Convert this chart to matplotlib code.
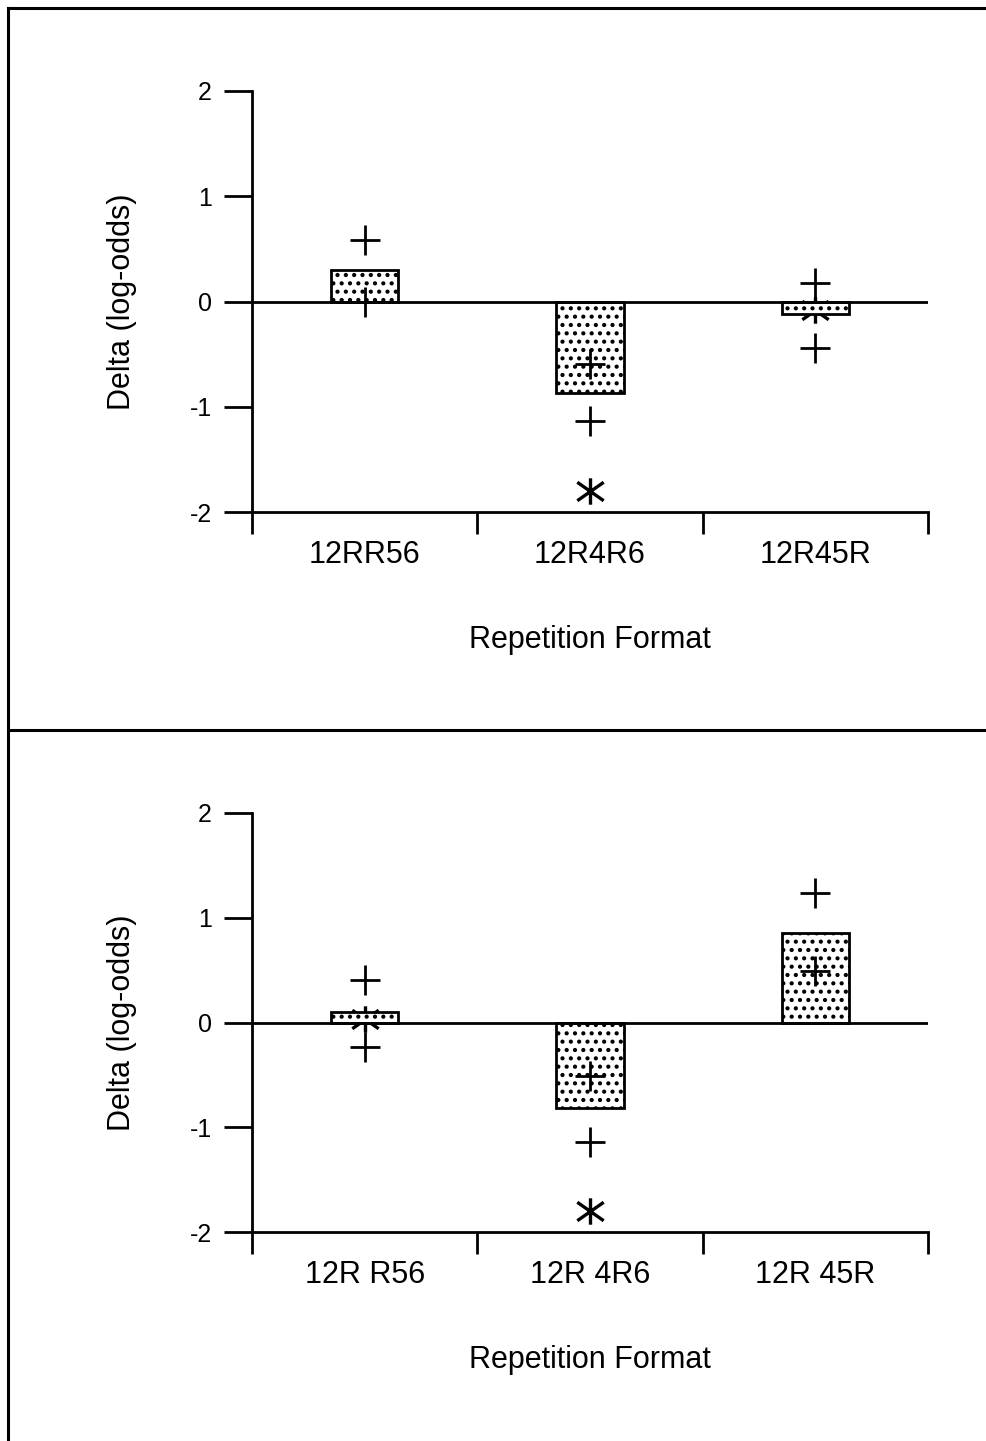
import numpy as np
import matplotlib
matplotlib.use("Agg")
import matplotlib.pyplot as plt
from matplotlib.lines import Line2D
from matplotlib.path import Path

plt.rcParams['font.family'] = ['Liberation Sans', 'DejaVu Sans']
plt.rcParams['axes.unicode_minus'] = False
plt.rcParams['hatch.linewidth'] = 1.8

# top panel
labels_top = ["12RR56", "12R4R6", "12R45R"]
bars_top = [0.30, -0.87, -0.12]
plus_top = [[0.58, 0.0], [-0.59, -1.14], [0.18, -0.44]]
star_top = [None, -1.80, -0.08]

# bottom panel
labels_bot = ["12R R56", "12R 4R6", "12R 45R"]
bars_bot = [0.10, -0.82, 0.85]
plus_bot = [[0.41, -0.23], [-0.51, -1.14], [1.24, 0.49]]
star_bot = [0.03, -1.80, None]

# asterisk like the one in the original (vertical + two diagonals)
star = Path([(0, -1), (0, 1), (-1, -0.7), (1, 0.7), (-1, 0.7), (1, -0.7)],
            [Path.MOVETO, Path.LINETO, Path.MOVETO, Path.LINETO,
             Path.MOVETO, Path.LINETO])

W, H = 987, 1441
fig = plt.figure(figsize=(W / 100, H / 100), dpi=100)


def panel(rect, labels, bars, plus, stars):
    ax = fig.add_axes(rect)
    x = np.arange(len(labels)) + 0.5
    ax.bar(x, bars, width=0.3, color='white', edgecolor='black',
           linewidth=2, hatch='..', zorder=3)
    for xi, pv in zip(x, plus):
        ax.plot([xi] * len(pv), pv, ls='none', marker='+', ms=22,
                mew=2, color='black', zorder=4)
    for xi, sv in zip(x, stars):
        if sv is not None:
            ax.plot([xi], [sv], ls='none', marker=star, ms=19,
                    mew=2.4, color='black', zorder=2)
    ax.axhline(0, color='black', lw=2, zorder=3.5)
    ax.set_xlim(0, 3)
    ax.set_ylim(-2, 2)
    ax.set_yticks([-2, -1, 0, 1, 2])
    ax.set_xticks([0, 1, 2, 3])
    ax.set_xticklabels([])
    ax.set_xticks(x, minor=True)
    ax.set_xticklabels(labels, minor=True)
    ax.tick_params(axis='x', which='minor', length=0, pad=20, labelsize=22)
    ax.tick_params(axis='x', which='major', length=16, width=2, direction='out')
    ax.tick_params(axis='y', length=20, width=2, direction='out', pad=9,
                   labelsize=18)
    for s in ['top', 'right']:
        ax.spines[s].set_visible(False)
    for s in ['left', 'bottom']:
        ax.spines[s].set_linewidth(2)
    ax.set_xlabel("Repetition Format", fontsize=22, labelpad=40)
    ax.set_ylabel("Delta (log-odds)", fontsize=22, labelpad=38)
    return ax


panel([252 / W, 1 - 512 / H, 676 / W, 421 / H], labels_top, bars_top, plus_top, star_top)
panel([252 / W, 1 - 1232 / H, 676 / W, 419 / H], labels_bot, bars_bot, plus_bot, star_bot)

# frame lines
lw = 2.2
fig.add_artist(Line2D([8 / W, 1], [1 - 8 / H, 1 - 8 / H], color='black', lw=lw))
fig.add_artist(Line2D([8 / W, 8 / W], [0, 1 - 8 / H], color='black', lw=lw))
fig.add_artist(Line2D([8 / W, 1], [1 - 730 / H, 1 - 730 / H], color='black', lw=lw))

fig.savefig("out.png", dpi=100)
